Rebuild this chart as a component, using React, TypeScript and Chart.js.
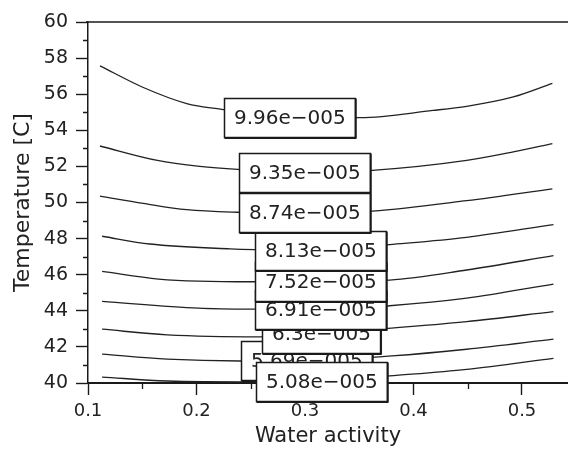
import React, { useEffect, useRef } from 'react';
import { Chart, registerables } from 'chart.js';

Chart.register(...registerables);

const FONT = '"DejaVu Sans", "Liberation Sans", sans-serif';
const INK = '#1a1a1a';

// Axis ticks
const xMajorTicks = [0.1, 0.2, 0.3, 0.4, 0.5];
const xMinorTicks = [0.15, 0.25, 0.35, 0.45];
const yMajorTicks = [40, 42, 44, 46, 48, 50, 52, 54, 56, 58, 60];
const yMinorTicks = [41, 43, 45, 47, 49, 51, 53, 55, 57, 59];

// Contour levels (labels)
const contourLevels = [
  '9.96e\u2212005', '9.35e\u2212005', '8.74e\u2212005', '8.13e\u2212005', '7.52e\u2212005',
  '6.91e\u2212005', '6.3e\u2212005', '5.69e\u2212005', '5.08e\u2212005',
];

// Contour lines: water activity (x) and temperature (y)
const c996x = [0.111, 0.151, 0.191, 0.222, 0.286, 0.351, 0.418, 0.449, 0.492, 0.528];
const c996y = [57.57, 56.37, 55.48, 55.17, 54.72, 54.7, 55.1, 55.33, 55.85, 56.6];
const c935x = [0.111, 0.164, 0.203, 0.238, 0.2995, 0.362, 0.449, 0.492, 0.528];
const c935y = [53.13, 52.33, 52.0, 51.83, 51.67, 51.78, 52.33, 52.8, 53.26];
const c874x = [0.111, 0.151, 0.191, 0.238, 0.2995, 0.362, 0.449, 0.528];
const c874y = [50.35, 49.95, 49.6, 49.46, 49.42, 49.52, 50.1, 50.76];
const c813x = [0.113, 0.157, 0.231, 0.254, 0.314, 0.378, 0.449, 0.529];
const c813y = [48.13, 47.7, 47.43, 47.39, 47.36, 47.67, 48.07, 48.78];
const c752x = [0.113, 0.165, 0.25, 0.314, 0.378, 0.449, 0.529];
const c752y = [46.18, 45.76, 45.61, 45.62, 45.7, 46.26, 47.06];
const c691x = [0.113, 0.202, 0.25, 0.314, 0.378, 0.449, 0.529];
const c691y = [44.52, 44.15, 44.09, 44.08, 44.28, 44.7, 45.48];
const c630x = [0.113, 0.173, 0.259, 0.3147, 0.368, 0.449, 0.529];
const c630y = [42.98, 42.67, 42.56, 42.7, 42.98, 43.4, 43.96];
const c569x = [0.113, 0.173, 0.24, 0.301, 0.38, 0.449, 0.529];
const c569y = [41.6, 41.32, 41.22, 41.25, 41.5, 41.87, 42.43];
const c508x = [0.113, 0.173, 0.254, 0.3147, 0.378, 0.449, 0.529];
const c508y = [40.33, 40.11, 40.06, 40.08, 40.39, 40.76, 41.37];

const contourXs = [c996x, c935x, c874x, c813x, c752x, c691x, c630x, c569x, c508x];
const contourYs = [c996y, c935y, c874y, c813y, c752y, c691y, c630y, c569y, c508y];

// Label anchors (on the contour, in data units)
const labelX = [0.286, 0.2995, 0.2995, 0.314, 0.314, 0.314, 0.3147, 0.301, 0.3147];
const labelY = [54.7, 51.67, 49.42, 47.36, 45.64, 44.08, 42.76, 41.25, 40.08];
// Drawing order of the label boxes (indices into contourLevels), later ones on top
const labelDrawOrder = [7, 8, 6, 5, 4, 3, 2, 1, 0];

const overlayPlugin = {
  id: 'contourOverlay',
  afterDraw(chart: any) {
    const { ctx, chartArea, scales } = chart;
    const xs = scales.x;
    const ys = scales.y;
    ctx.save();
    ctx.strokeStyle = INK;
    // top frame line
    ctx.lineWidth = 1.5;
    ctx.beginPath();
    ctx.moveTo(chartArea.left - 2, chartArea.top);
    ctx.lineTo(chartArea.right, chartArea.top);
    ctx.stroke();
    // minor ticks
    ctx.lineWidth = 1.3;
    ctx.beginPath();
    yMinorTicks.forEach((v) => {
      const py = Math.round(ys.getPixelForValue(v)) + 0.5;
      ctx.moveTo(chartArea.left - 5, py);
      ctx.lineTo(chartArea.left, py);
    });
    xMinorTicks.forEach((v) => {
      const px = Math.round(xs.getPixelForValue(v)) + 0.5;
      ctx.moveTo(px, chartArea.bottom);
      ctx.lineTo(px, chartArea.bottom + 6);
    });
    ctx.stroke();

    // label boxes
    ctx.font = `20px ${FONT}`;
    ctx.textAlign = 'center';
    ctx.textBaseline = 'middle';
    labelDrawOrder.forEach((i) => {
      const text = contourLevels[i];
      const cx = xs.getPixelForValue(labelX[i]);
      const cy = ys.getPixelForValue(labelY[i]);
      const w = ctx.measureText(text).width + 19;
      const h = 39;
      const l = Math.round(cx - w / 2) + 0.5;
      const t = Math.round(cy - h / 2) + 0.5;
      ctx.fillStyle = '#ffffff';
      ctx.fillRect(l, t, w, h);
      ctx.lineWidth = 1.5;
      ctx.strokeStyle = INK;
      ctx.strokeRect(l, t, w, h);
      // slightly heavier bottom/right edge
      ctx.lineWidth = 1;
      ctx.beginPath();
      ctx.moveTo(l, t + h + 1);
      ctx.lineTo(l + w + 1, t + h + 1);
      ctx.lineTo(l + w + 1, t);
      ctx.stroke();
      ctx.fillStyle = '#222';
      ctx.fillText(text, l + w / 2, t + h / 2 + 1);
    });
    ctx.restore();
  },
};

export default function App() {
  const canvasRef = useRef<HTMLCanvasElement | null>(null);

  useEffect(() => {
    document.body.style.margin = '0';
    const canvas = canvasRef.current;
    if (!canvas) return;

    const datasets = contourLevels.map((lvl, i) => ({
      label: lvl,
      data: contourXs[i].map((x, j) => ({ x, y: contourYs[i][j] })),
      borderColor: '#222',
      borderWidth: 1.3,
      pointRadius: 0,
      fill: false,
      cubicInterpolationMode: 'monotone' as const,
    }));

    const chart = new Chart(canvas, {
      type: 'line',
      data: { datasets },
      options: {
        animation: false,
        responsive: false,
        maintainAspectRatio: false,
        layout: { padding: { top: 22, left: 0, right: 0, bottom: 0 } },
        plugins: {
          legend: { display: false },
          tooltip: { enabled: false },
        },
        scales: {
          x: {
            type: 'linear',
            min: 0.1,
            max: 0.5424,
            afterBuildTicks: (s: any) => {
              s.ticks = xMajorTicks.map((v) => ({ value: v }));
            },
            afterFit: (s: any) => {
              s.height = 66;
            },
            ticks: {
              autoSkip: false,
              maxRotation: 0,
              padding: 6,
              color: '#222',
              font: { family: FONT, size: 18 },
              callback: (v: any) => Number(v).toFixed(1),
            },
            grid: {
              drawOnChartArea: false,
              drawTicks: true,
              tickLength: 12,
              tickColor: INK,
              tickWidth: 1.4,
            },
            border: { display: true, color: INK, width: 2 },
            title: {
              display: true,
              text: 'Water activity',
              color: '#222',
              font: { family: FONT, size: 21 },
              padding: { top: 0, bottom: 0 },
            },
          },
          y: {
            type: 'linear',
            min: 40,
            max: 60,
            afterBuildTicks: (s: any) => {
              s.ticks = yMajorTicks.map((v) => ({ value: v }));
            },
            afterFit: (s: any) => {
              s.width = 88;
            },
            ticks: {
              autoSkip: false,
              padding: 8,
              color: '#222',
              font: { family: FONT, size: 19 },
              callback: (v: any) => String(v),
            },
            grid: {
              drawOnChartArea: false,
              drawTicks: true,
              tickLength: 12,
              tickColor: INK,
              tickWidth: 1.4,
            },
            border: { display: true, color: INK, width: 1.5 },
            title: {
              display: true,
              text: 'Temperature [C]',
              color: '#222',
              font: { family: FONT, size: 22 },
              padding: { top: 10, bottom: 0 },
            },
          },
        },
      },
      plugins: [overlayPlugin],
    });

    return () => chart.destroy();
  }, []);

  return (
    <div style={{ width: 568, height: 449, background: '#fff' }}>
      <canvas ref={canvasRef} width={568} height={449} style={{ display: 'block', width: 568, height: 449 }} />
    </div>
  );
}
